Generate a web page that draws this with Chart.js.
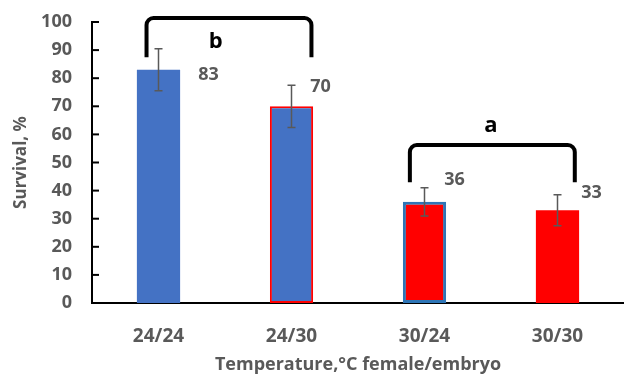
<!DOCTYPE html>
<html>
<head>
<meta charset="utf-8">
<script src="https://cdn.jsdelivr.net/npm/chart.js@4"></script>
<style>
  html, body { margin: 0; padding: 0; background: #fff; }
  #wrap { width: 624px; height: 377px; }
</style>
</head>
<body>
<div id="wrap"><canvas id="chart"></canvas></div>
<script>
const categories = ["24/24", "24/30", "30/24", "30/30"];
const survival = [83, 70, 36, 33];
const errors = [7.5, 7.5, 5, 5.5];
const fillColors = ["#4472C4", "#4472C4", "#FF0000", "#FF0000"];
const edgeColors = ["#4472C4", "#FF0000", "#2E75B6", "#FF0000"];
const edgeWidths = [0, 2, 3, 0];
const groupLetters = ["b", "a"];

const grey = "#595959";
const fam = "'Open Sans'";

// brackets: category span, top/bottom level, letter position
const brackets = [
  { from: -0.09, to: 1.15, top: 101.4, bottom: 87.5, letterX: 0.43, letterY: 92.9 },
  { from: 1.89, to: 3.13, top: 56.2, bottom: 43, letterX: 2.5, letterY: 63 }
];
// value label offsets from bar centre / bar top, px
const labelOffsets = [[50, 5], [29, -19], [30, -22], [34, -17]];

const annotate = {
  id: "annotate",
  afterDatasetsDraw(chart) {
    const { ctx, scales: { x, y } } = chart;
    const meta = chart.getDatasetMeta(0);
    ctx.save();

    // error bars
    ctx.strokeStyle = grey;
    ctx.lineWidth = 1.5;
    meta.data.forEach((bar, i) => {
      const hi = y.getPixelForValue(survival[i] + errors[i]);
      const lo = y.getPixelForValue(survival[i] - errors[i]);
      ctx.beginPath();
      ctx.moveTo(bar.x, hi); ctx.lineTo(bar.x, lo);
      ctx.moveTo(bar.x - 4, hi); ctx.lineTo(bar.x + 4, hi);
      ctx.moveTo(bar.x - 4, lo); ctx.lineTo(bar.x + 4, lo);
      ctx.stroke();
    });

    // value labels
    ctx.fillStyle = grey;
    ctx.font = "bold 18px " + fam;
    ctx.textAlign = "center";
    ctx.textBaseline = "middle";
    meta.data.forEach((bar, i) => {
      ctx.fillText(String(survival[i]), bar.x + labelOffsets[i][0], bar.y + labelOffsets[i][1]);
    });

    // significance brackets
    ctx.strokeStyle = "#000";
    ctx.lineWidth = 4;
    ctx.lineJoin = "round";
    brackets.forEach((b, i) => {
      const x0 = x.getPixelForValue(b.from), x1 = x.getPixelForValue(b.to);
      const yt = y.getPixelForValue(b.top), yb = y.getPixelForValue(b.bottom);
      const r = 7;
      ctx.beginPath();
      ctx.moveTo(x0, yb);
      ctx.lineTo(x0, yt + r);
      ctx.arcTo(x0, yt, x0 + r, yt, r);
      ctx.lineTo(x1 - r, yt);
      ctx.arcTo(x1, yt, x1, yt + r, r);
      ctx.lineTo(x1, yb);
      ctx.stroke();
      ctx.fillStyle = "#000";
      ctx.font = "bold 22px " + fam;
      ctx.fillText(groupLetters[i], x.getPixelForValue(b.letterX), y.getPixelForValue(b.letterY));
    });

    // inside tick marks on the value axis
    ctx.strokeStyle = "#000";
    ctx.lineWidth = 2;
    y.ticks.forEach(t => {
      if (t.value === 0) return;
      const py = y.getPixelForValue(t.value);
      ctx.beginPath();
      ctx.moveTo(chart.chartArea.left, py);
      ctx.lineTo(chart.chartArea.left + 7, py);
      ctx.stroke();
    });
    ctx.restore();
  }
};

new Chart(document.getElementById("chart"), {
  type: "bar",
  data: {
    labels: categories,
    datasets: [{
      data: survival,
      backgroundColor: fillColors,
      borderColor: edgeColors,
      borderWidth: edgeWidths,
      borderSkipped: false,
      categoryPercentage: 1,
      barPercentage: 0.325
    }]
  },
  options: {
    responsive: true,
    maintainAspectRatio: false,
    animation: false,
    layout: { padding: { top: 22, left: 0, right: 0, bottom: 0 } },
    plugins: { legend: { display: false }, tooltip: { enabled: false } },
    scales: {
      x: {
        grid: { display: false, drawTicks: false },
        border: { color: "#000", width: 2 },
        ticks: { color: grey, padding: 22, font: { family: "Open Sans", size: 19, weight: "bold" } },
        title: {
          display: true,
          text: "Temperature,°C female/embryo",
          color: grey,
          padding: { top: 0, bottom: 1 },
          font: { family: "Open Sans", size: 18, weight: "bold" }
        },
        afterFit: s => { s.height = 74; s.paddingLeft = 0; s.paddingRight = 0; }
      },
      y: {
        min: 0,
        max: 100,
        grid: { display: false, drawTicks: false },
        border: { color: "#000", width: 2 },
        ticks: { stepSize: 10, color: grey, padding: 20, font: { family: "Open Sans", size: 18, weight: "bold" } },
        title: {
          display: true,
          text: "Survival, %",
          color: grey,
          padding: { top: 11, bottom: 0 },
          font: { family: "Open Sans", size: 17, weight: "bold" }
        },
        afterFit: s => { s.width = 92; s.paddingTop = 0; s.paddingBottom = 0; }
      }
    }
  },
  plugins: [annotate]
});
</script>
</body>
</html>
